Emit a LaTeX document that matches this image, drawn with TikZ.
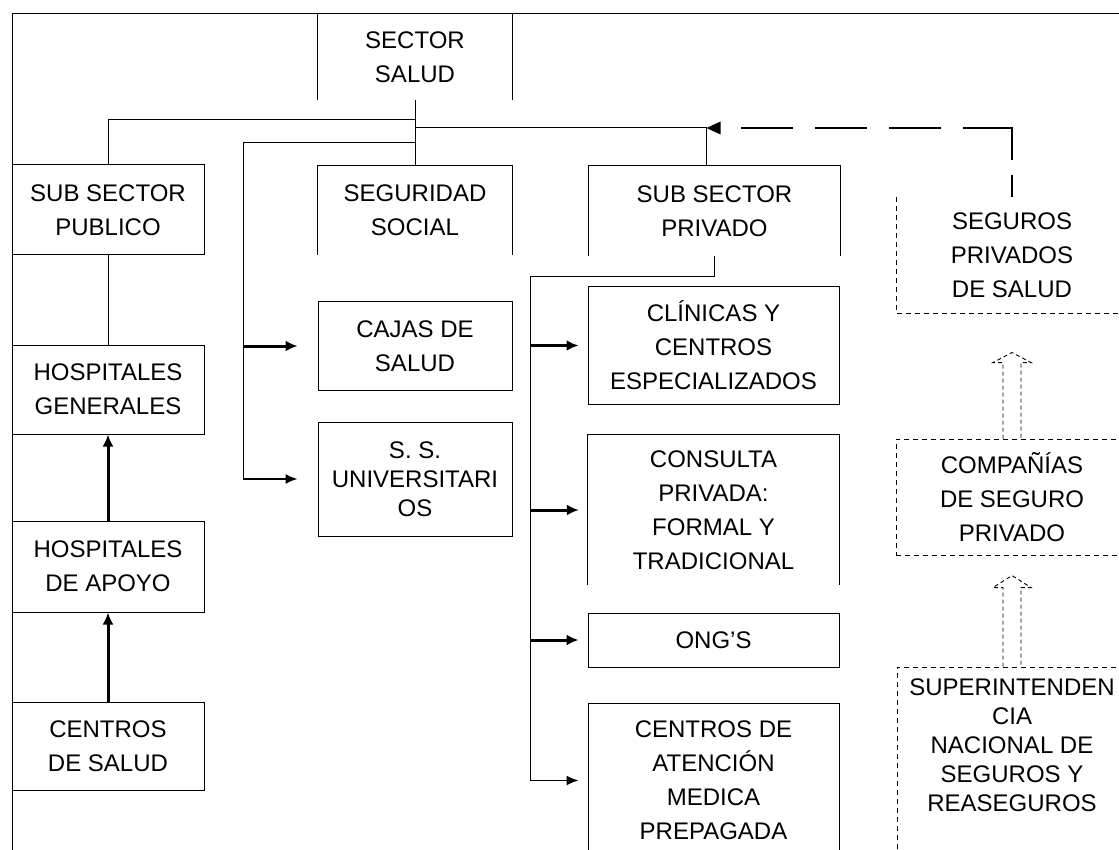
\documentclass[tikz,border=0pt]{standalone}
\usepackage{fontspec}
\setmainfont{Liberation Sans}
\usetikzlibrary{arrows.meta}
\begin{document}
\begin{tikzpicture}[x=1pt,y=-1pt,
  txt/.style={inner sep=0pt, align=center, font=\fontsize{24}{34}\selectfont},
  tight/.style={font=\fontsize{24}{29}\selectfont},
  box/.style={txt, draw, line width=1pt},
  open/.style={txt},
  dbox/.style={txt, draw, line width=0.9pt, dash pattern=on 5pt off 4pt},
  edge/.style={line width=1pt},
  heavy/.style={line width=3pt, -{Latex[length=12pt,width=11pt]}},
  light/.style={line width=1.6pt, -{Latex[length=12pt,width=10pt]}},
  ddash/.style={line width=0.9pt, dash pattern=on 5pt off 4pt},
  hollow/.style={line width=0.9pt, dash pattern=on 4pt off 3pt, line join=miter},
  fbline/.style={line width=2pt, line join=miter,
    dash pattern=on 22pt off 15pt on 81pt off 22pt on 52pt off 22pt on 52pt off 22pt on 52pt off 60pt}
]
\useasboundingbox (0,0) rectangle (1119,850);
\clip (0,0) rectangle (1119,850);

% outer frame
\coordinate (fa) at (12,850);
\coordinate (fb) at (12,14);
\coordinate (fc) at (1125,14);
\draw[edge] (fa) -- (fb) -- (fc);

% head of the chart
\node[open, minimum width=194pt, minimum height=86pt] (sector) at (415,57) {SECTOR\\SALUD};
\draw[edge] (sector.south west) -- (sector.north west) (sector.north east) -- (sector.south east);

% public sub-sector
\node[box, minimum width=192pt, minimum height=90pt] (publico)   at (108,210)   {SUB SECTOR\\PUBLICO};
\node[box, minimum width=192pt, minimum height=89pt] (generales) at (108,389.5) {HOSPITALES\\GENERALES};
\node[box, minimum width=192pt, minimum height=91pt] (apoyo)     at (108,566.5) {HOSPITALES\\DE APOYO};
\node[box, minimum width=192pt, minimum height=88pt] (centros)   at (108,746)   {CENTROS\\DE SALUD};

% social security
\node[open, minimum width=194pt, minimum height=89pt] (seguridad) at (415,210.5) {SEGURIDAD\\SOCIAL};
\draw[edge] (seguridad.south west) -- (seguridad.north west) -- (seguridad.north east) -- (seguridad.south east);
\node[box, minimum width=194pt, minimum height=88pt] (cajas) at (415,346) {CAJAS DE\\SALUD};
\node[box, tight, minimum width=194pt, minimum height=114pt] (ssu) at (415,479) {S. S.\\UNIVERSITARI\\OS};

% private sub-sector
\node[open, minimum width=251pt, minimum height=90pt] (privado) at (714.5,211) {SUB SECTOR\\PRIVADO};
\draw[edge] (privado.south west) -- (privado.north west) -- (privado.north east) -- (privado.south east);
\node[box, minimum width=251pt, minimum height=117pt] (clinicas) at (713.5,345.5) {CLÍNICAS Y\\CENTROS\\ESPECIALIZADOS};
\node[open, minimum width=251pt, minimum height=150pt] (consulta) at (713.5,510) {CONSULTA\\PRIVADA:\\FORMAL Y\\TRADICIONAL};
\draw[edge] (consulta.south west) -- (consulta.north west) -- (consulta.north east) -- (consulta.south east);
\node[box, minimum width=251pt, minimum height=54pt] (ongs) at (713.5,640) {ONG'S};
\node[box, minimum width=251pt, minimum height=155pt] (atencion) at (713.5,780.5) {CENTROS DE\\ATENCIÓN\\MEDICA\\PREPAGADA};

% insurance column
\node[open, minimum width=230pt, minimum height=116pt] (seguros) at (1012,255) {SEGUROS\\PRIVADOS\\DE SALUD};
\draw[ddash] (seguros.north west) -- (seguros.south west) -- (seguros.south east);
\node[dbox, minimum width=232pt, minimum height=116pt] (companias) at (1012,497) {COMPAÑÍAS\\DE SEGURO\\PRIVADO};
\node[dbox, minimum width=230pt, minimum height=200pt] (superbox) at (1012,767) {};
\node[open, tight] (super) at (1012,745) {SUPERINTENDEN\\CIA\\NACIONAL DE\\SEGUROS Y\\REASEGUROS};

% junctions of the connector tree
\coordinate (j1) at (415,120);
\coordinate (j2) at (415,128);
\coordinate (j3) at (706.5,128);
\coordinate (j4) at (415,143);
\coordinate (b1) at (243,479);
\coordinate (b2t) at (530,277);
\coordinate (b2) at (530,780.5);
\coordinate (fk) at (seguros.north |- j3);

% main tree
\draw[edge] (sector.south) -- (seguridad.north);
\draw[edge] (j1) -| (publico.north);
\draw[edge] (j2) -- (j3);
\draw[edge] ([xshift=-8pt]privado.north) -- (j3);

% dashed feedback from the private insurers, ending in a solid head
\draw[fbline] (seguros.north) -- (fk) -- (j3);
\fill (j3) -- ++(14,-6.5) -- ++(0,13) -- cycle;

% social security branches
\draw[edge] (j4) -| (b1);
\draw[heavy, shorten >=20pt] (b1 |- cajas.west) -- (cajas.west);
\draw[light, shorten >=20pt] (b1) -- (ssu.west);

% private branches
\draw[edge] (privado.south) |- (b2t) -- (b2);
\draw[heavy, shorten >=9pt] (b2 |- clinicas.west) -- (clinicas.west);
\draw[heavy, shorten >=9pt] (b2 |- consulta.west) -- (consulta.west);
\draw[heavy, shorten >=9pt] (b2 |- ongs.west) -- (ongs.west);
\draw[light, shorten >=9pt] (b2) -- (atencion.west);

% public chain
\draw[edge] (publico.south) -- (generales.north);
\draw[heavy] (apoyo.north) -- (generales.south);
\draw[heavy] (centros.north) -- (apoyo.south);

% hollow block arrows between the insurance boxes
\draw[hollow] ([xshift=-9pt]companias.north) -- ++(0,-76) -- ++(-10,0) -- ++(19,-10) -- ++(19,10) -- ++(-10,0) -- ++(0,76);
\draw[hollow] ([xshift=-9pt]superbox.north) -- ++(0,-79) -- ++(-10,0) -- ++(19,-12) -- ++(19,12) -- ++(-10,0) -- ++(0,79);
\end{tikzpicture}
\end{document}
